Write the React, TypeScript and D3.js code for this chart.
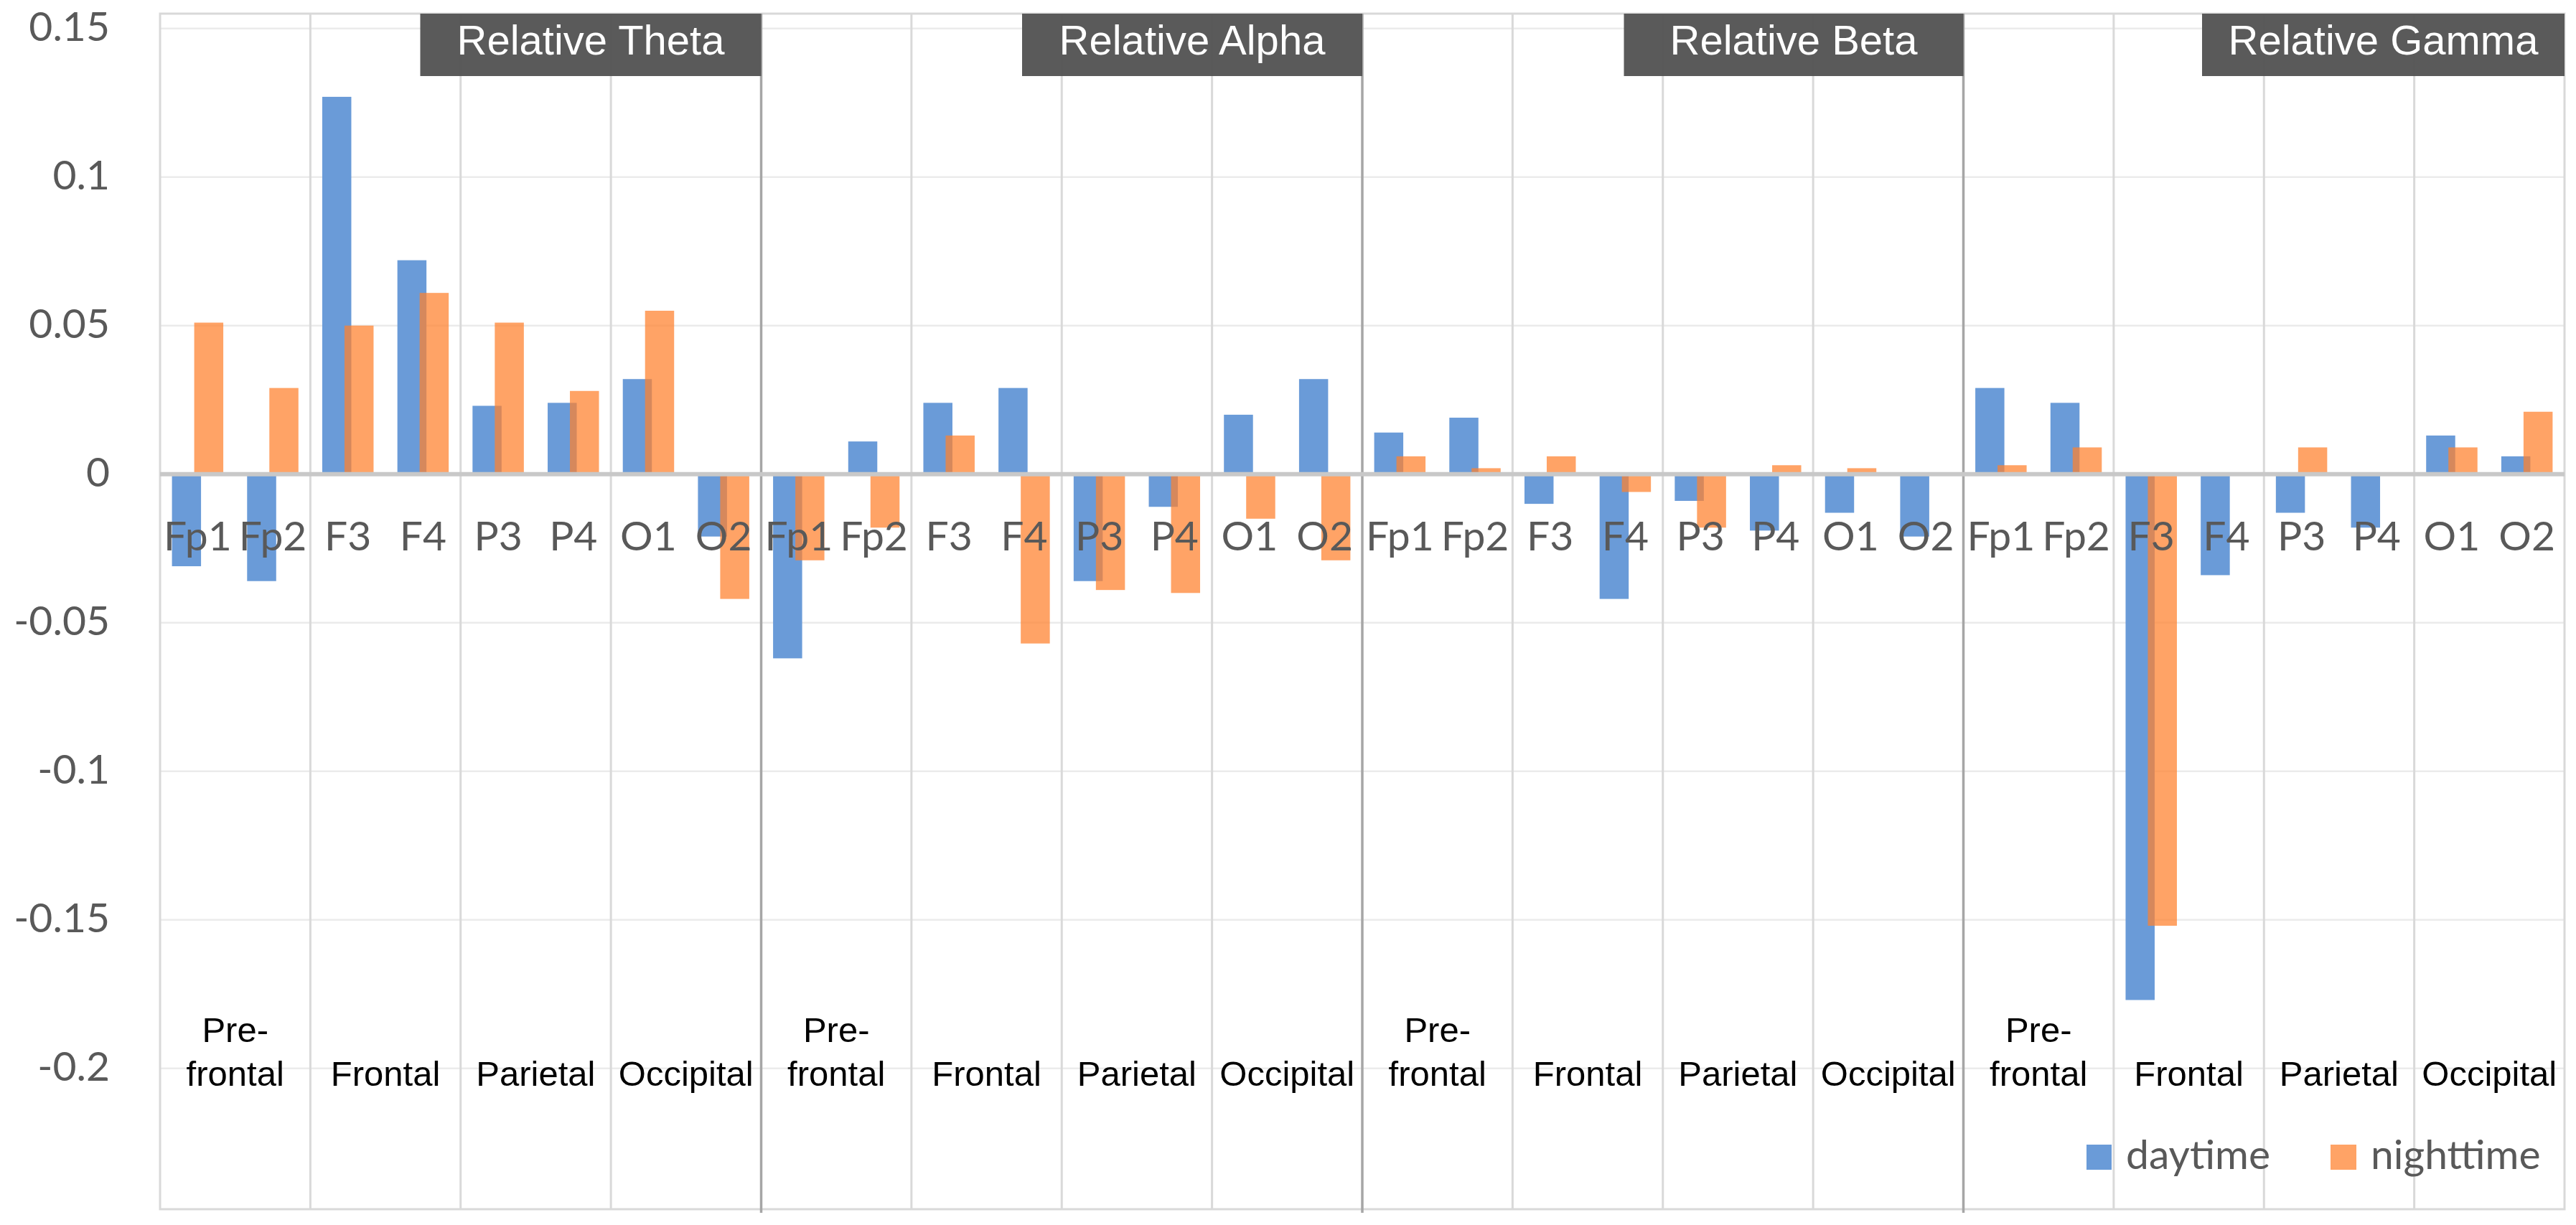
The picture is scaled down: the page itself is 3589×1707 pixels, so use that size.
import React from 'react';
import * as d3 from 'd3';

// channels, brain regions and frequency bands
const electrodes = ['Fp1', 'Fp2', 'F3', 'F4', 'P3', 'P4', 'O1', 'O2'];
const regions = [['Pre-', 'frontal'], ['Frontal'], ['Parietal'], ['Occipital']];
const bands = ['Relative Theta', 'Relative Alpha', 'Relative Beta', 'Relative Gamma'];
const seriesNames = ['daytime', 'nighttime'];
const yTickValues = [0.15, 0.1, 0.05, 0, -0.05, -0.1, -0.15, -0.2];

// daytime values per band (Fp1 .. O2)
const daytimeTheta = [-0.031, -0.036, 0.127, 0.072, 0.023, 0.024, 0.032, -0.021];
const daytimeAlpha = [-0.062, 0.011, 0.024, 0.029, -0.036, -0.011, 0.02, 0.032];
const daytimeBeta = [0.014, 0.019, -0.01, -0.042, -0.009, -0.019, -0.013, -0.021];
const daytimeGamma = [0.029, 0.024, -0.177, -0.034, -0.013, -0.018, 0.013, 0.006];

// nighttime values per band (Fp1 .. O2)
const nighttimeTheta = [0.051, 0.029, 0.05, 0.061, 0.051, 0.028, 0.055, -0.042];
const nighttimeAlpha = [-0.029, -0.018, 0.013, -0.057, -0.039, -0.04, -0.015, -0.029];
const nighttimeBeta = [0.006, 0.002, 0.006, -0.006, -0.018, 0.003, 0.002, 0];
const nighttimeGamma = [0.003, 0.009, -0.152, 0, 0.009, 0, 0.009, 0.021];

const daytime = [daytimeTheta, daytimeAlpha, daytimeBeta, daytimeGamma];
const nighttime = [nighttimeTheta, nighttimeAlpha, nighttimeBeta, nighttimeGamma];

const colors = { daytime: '#6a9bd8', nighttime: '#ff812d' };
const barOpacity = { daytime: 1, nighttime: 0.73 };

const W = 3589;
const H = 1707;
const plot = { left: 223, right: 3573, top: 19, bottom: 1685 };
const titleBoxWidth = [475, 474, 473, 505];
const tickFont = 'Lato, "Open Sans", sans-serif';
const boxFont = '"Liberation Sans", Arial, sans-serif';

const App = () => {
  const y = d3.scaleLinear().domain([-0.2, 0.15]).range([1488.7, 39.7]);

  const bandScale = d3.scaleBand().domain(bands).range([plot.left, plot.right]);
  const regionKeys = bands.flatMap((b) => regions.map((r) => `${b}|${r.join('')}`));
  const regionScale = d3.scaleBand().domain(regionKeys).range([plot.left, plot.right]);
  const catKeys = bands.flatMap((b) => electrodes.map((e) => `${b}|${e}`));
  const x = d3.scaleBand().domain(catKeys).range([plot.left, plot.right]);
  const offset = d3.scalePoint().domain(seriesNames).range([-15.5, 15.5]);
  const barW = 40.5;

  const bars: { key: string; s: string; x: number; v: number }[] = [];
  bands.forEach((b, bi) => {
    electrodes.forEach((e, ei) => {
      const c = (x(`${b}|${e}`) as number) + x.bandwidth() / 2;
      bars.push({ key: `${b}|${e}|d`, s: 'daytime', x: c + (offset('daytime') as number), v: daytime[bi][ei] });
      bars.push({ key: `${b}|${e}|n`, s: 'nighttime', x: c + (offset('nighttime') as number), v: nighttime[bi][ei] });
    });
  });

  return (
    <svg width={W} height={H} style={{ position: 'absolute', left: 0, top: 0, background: '#fff' }}>
      {/* horizontal gridlines */}
      {yTickValues.filter((t) => t !== 0).map((t) => (
        <line key={t} x1={plot.left} x2={plot.right} y1={y(t)} y2={y(t)} stroke="#ebebeb" strokeWidth={2.5} />
      ))}
      {/* plot frame */}
      <rect x={plot.left} y={plot.top} width={plot.right - plot.left} height={plot.bottom - plot.top}
        fill="none" stroke="#d9d9d9" strokeWidth={3} />

      {/* region dividers */}
      {regionKeys.map((k, i) => {
        if (i === 0) return null;
        const xx = regionScale(k) as number;
        const major = i % regions.length === 0;
        return (
          <line key={k} x1={xx} x2={xx} y1={plot.top} y2={plot.bottom + (major ? 5 : 0)}
            stroke={major ? '#a6a6a6' : '#d9d9d9'} strokeWidth={major ? 3.5 : 3} />
        );
      })}

      {/* band title boxes */}
      {bands.map((b, i) => {
        const right = (bandScale(b) as number) + bandScale.bandwidth();
        const w = titleBoxWidth[i];
        return (
          <g key={b}>
            <rect x={right - w} y={plot.top} width={w} height={87} fill="#555555" opacity={0.97} />
            <text x={right - w / 2} y={76} textAnchor="middle" fill="#fff" fontFamily={boxFont} fontSize={58}>
              {b}
            </text>
          </g>
        );
      })}

      {/* bars */}
      {bars.map((d) => (
        <rect key={d.key} x={d.x - barW / 2} width={barW}
          y={Math.min(y(d.v), y(0))} height={Math.abs(y(d.v) - y(0))}
          fill={colors[d.s]} opacity={barOpacity[d.s]} />
      ))}

      {/* zero line */}
      <line x1={plot.left} x2={plot.right} y1={y(0)} y2={y(0)} stroke="#c8c8c8" strokeWidth={6} />

      {/* y tick labels */}
      {yTickValues.map((t) => (
        <text key={t} x={153} y={y(t) + 17} textAnchor="end" fill="#595959" fontFamily={tickFont} fontSize={57}>
          {String(t)}
        </text>
      ))}

      {/* electrode labels */}
      {catKeys.map((k) => (
        <text key={k} x={(x(k) as number) + x.bandwidth() / 2} y={767} textAnchor="middle"
          fill="#595959" fontFamily={tickFont} fontSize={57}>
          {k.split('|')[1]}
        </text>
      ))}

      {/* region labels */}
      {regionKeys.map((k, i) => {
        const lines = regions[i % regions.length];
        const cx = (regionScale(k) as number) + regionScale.bandwidth() / 2;
        return (
          <text key={k} x={cx} textAnchor="middle" fill="#000" fontFamily={boxFont} fontSize={49}>
            {lines.map((l, li) => (
              <tspan key={l} x={cx} y={1513 - (lines.length - 1 - li) * 61}>{l}</tspan>
            ))}
          </text>
        );
      })}

      {/* legend */}
      <g>
        <rect x={2907} y={1595} width={35} height={35} fill={colors.daytime} />
        <text x={2962} y={1629} fill="#595959" fontFamily={tickFont} fontSize={57}>daytime</text>
        <rect x={3247} y={1595} width={36} height={35} fill={colors.nighttime} opacity={barOpacity.nighttime} />
        <text x={3303} y={1629} fill="#595959" fontFamily={tickFont} fontSize={57}>nighttime</text>
      </g>
    </svg>
  );
};

export default App;
